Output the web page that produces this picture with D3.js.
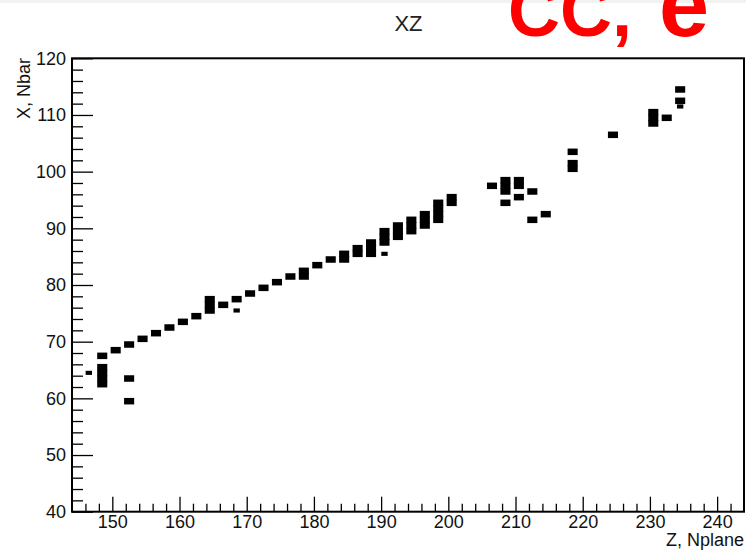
<!DOCTYPE html>
<html>
<head>
<meta charset="utf-8">
<script src="https://cdn.jsdelivr.net/npm/d3@7/dist/d3.min.js"></script>
<style>
  html, body { margin: 0; padding: 0; background: #fff; }
  svg { display: block; }
  text { font-family: "Liberation Sans", Arial, Helvetica, sans-serif; }
</style>
</head>
<body>
<svg id="chart" width="746" height="550"></svg>
<script>
// Hit map in the XZ view: plane number (Z) against bar number (X).
const planes = [146, 148, 150, 152, 154, 156, 158, 160, 162, 164, 166, 168, 170, 172, 174,
  176, 178, 180, 182, 184, 186, 188, 190, 192, 194, 196, 198, 200, 206, 208, 210, 212, 214,
  218, 224, 230, 232, 234];

// Bars hit in each plane (same order as planes)
const barsPerPlane = [
  [], [62, 63, 64, 65, 67], [68], [59, 63, 69], [70], [71], [72], [73], [74], [75, 76, 77],
  [76], [77], [78], [79], [80], [81], [81, 82], [83], [84], [84, 85], [85, 86], [85, 86, 87],
  [87, 88, 89], [88, 89, 90], [89, 90, 91], [90, 91, 92], [91, 92, 93, 94], [94, 95], [97],
  [94, 96, 97, 98], [95, 97, 98], [91, 96], [92], [100, 101, 103], [106], [108, 109, 110],
  [109], [112, 114]
];

// Low-charge hits drawn with smaller boxes: [plane, bar]
const weakHits = [[146, 64], [168, 75], [190, 85], [234, 111]];

const xTicks = [150, 160, 170, 180, 190, 200, 210, 220, 230, 240];
const yTicks = [40, 50, 60, 70, 80, 90, 100, 110, 120];

const chartTitle = "XZ";
const tagText = "CC, ";
const tagTail = "e";
const xTitle = "Z, Nplane";
const yTitle = "X, Nbar";

const svg = d3.select("#chart");
const frameL = 72, frameR = 744, frameT = 58.3, frameB = 511.7;

const x = d3.scaleLinear().domain([144, 244]).range([frameL, frameR]);
const y = d3.scaleLinear().domain([40, 120]).range([frameB, frameT]);

// thin light strip along the top edge
svg.append("rect").attr("x", 0).attr("y", 0).attr("width", 746).attr("height", 3)
  .attr("fill", "#f2f2f2");

// flatten the hits
const hits = [];
planes.forEach((p, i) => barsPerPlane[i].forEach(b => hits.push({ p, b, w: 1 })));
weakHits.forEach(([p, b]) => hits.push({ p, b, w: 0.4 }));

// each hit fills its bin [p, p+1] x [b, b+1]; box slightly wider than the bin
const boxW = 1.5, boxH = 1.15;
svg.append("g").selectAll("rect").data(hits).join("rect")
  .attr("x", d => x(d.p + 0.5 - boxW * Math.sqrt(d.w) / 2))
  .attr("width", d => x(144 + boxW * Math.sqrt(d.w)) - x(144))
  .attr("y", d => y(d.b + 0.5 + boxH * Math.sqrt(d.w) / 2))
  .attr("height", d => y(40) - y(40 + boxH * Math.sqrt(d.w)))
  .attr("fill", "#000");

// axes, ticks pointing into the frame
const minorX = d3.range(146, 244, 2).filter(v => v % 10 !== 0);
const minorY = d3.range(42, 120, 2).filter(v => v % 10 !== 0);

const axisStyle = g => {
  g.select(".domain").remove();
  g.selectAll(".tick line").attr("stroke", "#000").attr("stroke-width", 1.3);
  g.selectAll("text").attr("font-size", 18).attr("fill", "#111");
};

svg.append("g").attr("transform", `translate(0,${frameB})`)
  .call(d3.axisBottom(x).tickValues(minorX).tickSize(-8).tickFormat(""))
  .call(axisStyle);
svg.append("g").attr("transform", `translate(0,${frameB})`)
  .call(d3.axisBottom(x).tickValues(xTicks).tickSize(-15).tickPadding(3.5).tickFormat(d3.format("d")))
  .call(axisStyle);

svg.append("g").attr("transform", `translate(${frameL},0)`)
  .call(d3.axisLeft(y).tickValues(minorY).tickSize(-11).tickFormat(""))
  .call(axisStyle);
svg.append("g").attr("transform", `translate(${frameL},0)`)
  .call(d3.axisLeft(y).tickValues(yTicks).tickSize(-21).tickPadding(6).tickFormat(d3.format("d")))
  .call(axisStyle);

// frame
svg.append("rect").attr("x", frameL).attr("y", frameT)
  .attr("width", frameR - frameL).attr("height", frameB - frameT)
  .attr("fill", "none").attr("stroke", "#000").attr("stroke-width", 2);

// titles
svg.append("text").attr("x", 408.5).attr("y", 31).attr("text-anchor", "middle")
  .attr("font-size", 22).attr("fill", "#222").text(chartTitle);

svg.append("text").attr("x", frameR).attr("y", 546).attr("text-anchor", "end")
  .attr("font-size", 18).attr("fill", "#111").text(xTitle);

svg.append("text").attr("transform", `translate(30,58) rotate(-90)`)
  .attr("text-anchor", "end").attr("font-size", 18).attr("fill", "#111").text(yTitle);

// red tag
const tag = svg.append("text").attr("x", 508).attr("y", 36)
  .attr("font-weight", "bold").attr("fill", "#ff0000").attr("font-size", 72);
tag.append("tspan").attr("xml:space", "preserve").text(tagText);
tag.append("tspan").attr("x", 659).attr("font-size", 90).text(tagTail);
</script>
</body>
</html>
